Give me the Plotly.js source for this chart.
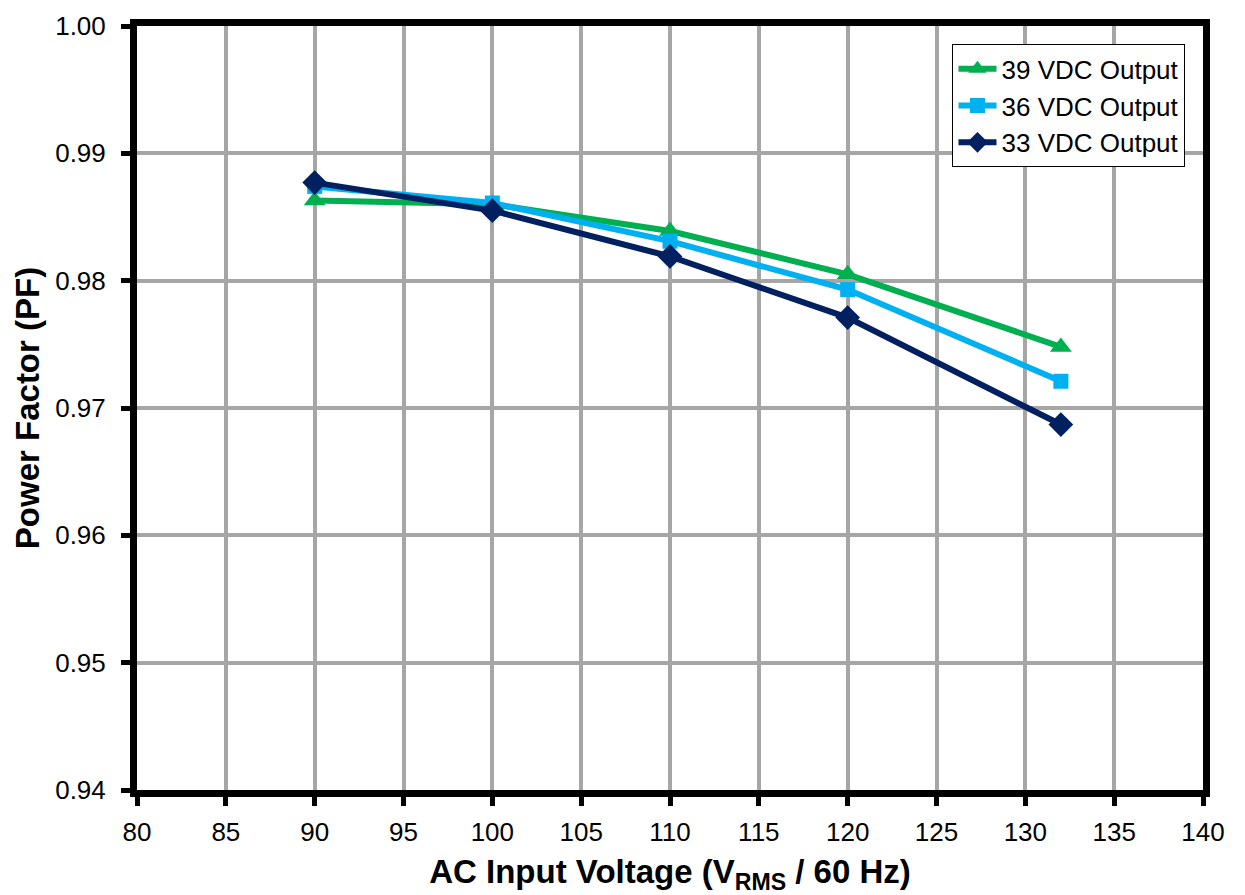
<!DOCTYPE html>
<html>
<head>
<meta charset="utf-8">
<script src="https://cdn.plot.ly/plotly-3.0.1.min.js"></script>
<style>
  html, body { margin: 0; padding: 0; background: #fff; }
  #chart { width: 1245px; height: 895px; }
</style>
</head>
<body>
<div id="chart"></div>
<script>
// AC input voltage (V RMS, 60 Hz)
const inputVoltage = [90, 100, 110, 120, 132];

// Power factor per output setting
const pf39 = [0.9863, 0.9860, 0.9839, 0.9805, 0.9748];
const pf36 = [0.9874, 0.9861, 0.9831, 0.9793, 0.9721];
const pf33 = [0.9877, 0.9855, 0.9819, 0.9771, 0.9687];

const seriesNames = ['39 VDC Output', '36 VDC Output', '33 VDC Output'];
const xTicks = [80, 85, 90, 95, 100, 105, 110, 115, 120, 125, 130, 135, 140];
const yTicks = [0.94, 0.95, 0.96, 0.97, 0.98, 0.99, 1.00];

const FONT = 'Liberation Sans, Arial, sans-serif';

function series(y, name, color, symbol, size) {
  return {
    x: inputVoltage, y: y, name: name, type: 'scatter', mode: 'lines+markers',
    line: { color: color, width: 6 },
    marker: { color: color, symbol: symbol, size: size }
  };
}

const data = [
  series(pf39, seriesNames[0], '#00B050', 'triangle-up', 19),
  series(pf36, seriesNames[1], '#00B0F0', 'square', 15),
  series(pf33, seriesNames[2], '#002060', 'diamond', 19)
];

const axisCommon = {
  showgrid: true, gridcolor: '#A6A6A6', gridwidth: 4,
  showline: true, linecolor: '#000', linewidth: 7, mirror: true,
  ticks: 'outside', ticklen: 9, tickwidth: 5, tickcolor: '#000',
  zeroline: false,
  tickfont: { family: FONT, size: 26, color: '#000' }
};

const layout = {
  width: 1245, height: 895,
  margin: { l: 137, r: 42, t: 26, b: 105 },
  paper_bgcolor: '#fff', plot_bgcolor: '#fff',
  font: { family: FONT, color: '#000', size: 26 },
  showlegend: true,
  legend: {
    x: 0.765, y: 0.976, xanchor: 'left', yanchor: 'top',
    bgcolor: '#fff', bordercolor: '#000', borderwidth: 1,
    font: { family: FONT, size: 26, color: '#000' },
    itemwidth: 38, tracegroupgap: 0
  },
  xaxis: Object.assign({}, axisCommon, {
    range: [80, 140], tickvals: xTicks, ticktext: xTicks.map(String),
    ticklabelstandoff: 4,
    title: { text: 'AC Input Voltage (V<sub>RMS</sub> / 60 Hz)', font: { family: FONT, size: 33, color: '#000', weight: 'bold' }, standoff: 16 }
  }),
  yaxis: Object.assign({}, axisCommon, {
    range: [0.94, 1.00], tickvals: yTicks, ticktext: yTicks.map(v => v.toFixed(2)),
    ticklabelstandoff: 10,
    title: { text: 'Power Factor (PF)', font: { family: FONT, size: 33, color: '#000', weight: 'bold' }, standoff: 8 }
  })
};

Plotly.newPlot('chart', data, layout, { displayModeBar: false, staticPlot: true });
</script>
</body>
</html>
